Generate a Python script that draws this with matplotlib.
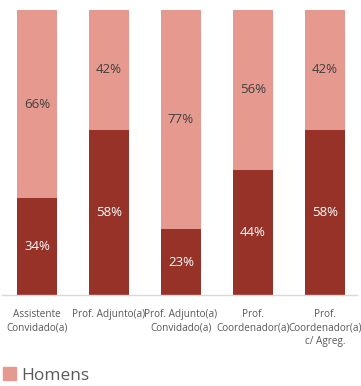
import matplotlib
matplotlib.use("Agg")
import matplotlib.pyplot as plt
from matplotlib.patches import Patch

categories = ["Assistente\nConvidado(a)", "Prof. Adjunto(a)", "Prof. Adjunto(a)\nConvidado(a)",
              "Prof.\nCoordenador(a)", "Prof.\nCoordenador(a)\nc/ Agreg."]
mulheres = [34, 58, 23, 44, 58]
homens = [66, 42, 77, 56, 42]

dark = "#963228"
light = "#E6998F"

plt.rcParams['font.family'] = ['Open Sans', 'DejaVu Sans']
fig = plt.figure(figsize=(3.61, 3.86), dpi=100)
ax = fig.add_axes([2/361, 1-295/386, 355/361, 285/386])

x = list(range(len(categories)))
w = 0.555
ax.bar(x, mulheres, width=w, color=dark)
ax.bar(x, homens, bottom=mulheres, width=w, color=light)
for i in x:
    ax.text(i, mulheres[i]/2, f"{mulheres[i]}%", ha="center", va="center", color="white", fontsize=9.5)
    ax.text(i, mulheres[i] + homens[i]/2, f"{homens[i]}%", ha="center", va="center", color="#404040", fontsize=9.5)

ax.set_xlim((2-37)/72, (357-37)/72)
ax.set_ylim(0, 100)
ax.set_yticks([])
ax.set_xticks(x)
ax.set_xticklabels(categories, fontsize=7.2, color="#595959", linespacing=1.3)
ax.tick_params(axis="x", length=0, pad=10)
for s in ["top", "right", "left"]:
    ax.spines[s].set_visible(False)
ax.spines["bottom"].set_color("#D9D9D9")
ax.spines["bottom"].set_linewidth(1)

fig.legend(handles=[Patch(color=light, label="Homens")], loc="lower left",
           bbox_to_anchor=(-0.035, -0.035), frameon=False, fontsize=12.5,
           handlelength=0.75, handleheight=0.75, handletextpad=0.3, labelcolor="#595959")

fig.savefig("out.png", dpi=100)
